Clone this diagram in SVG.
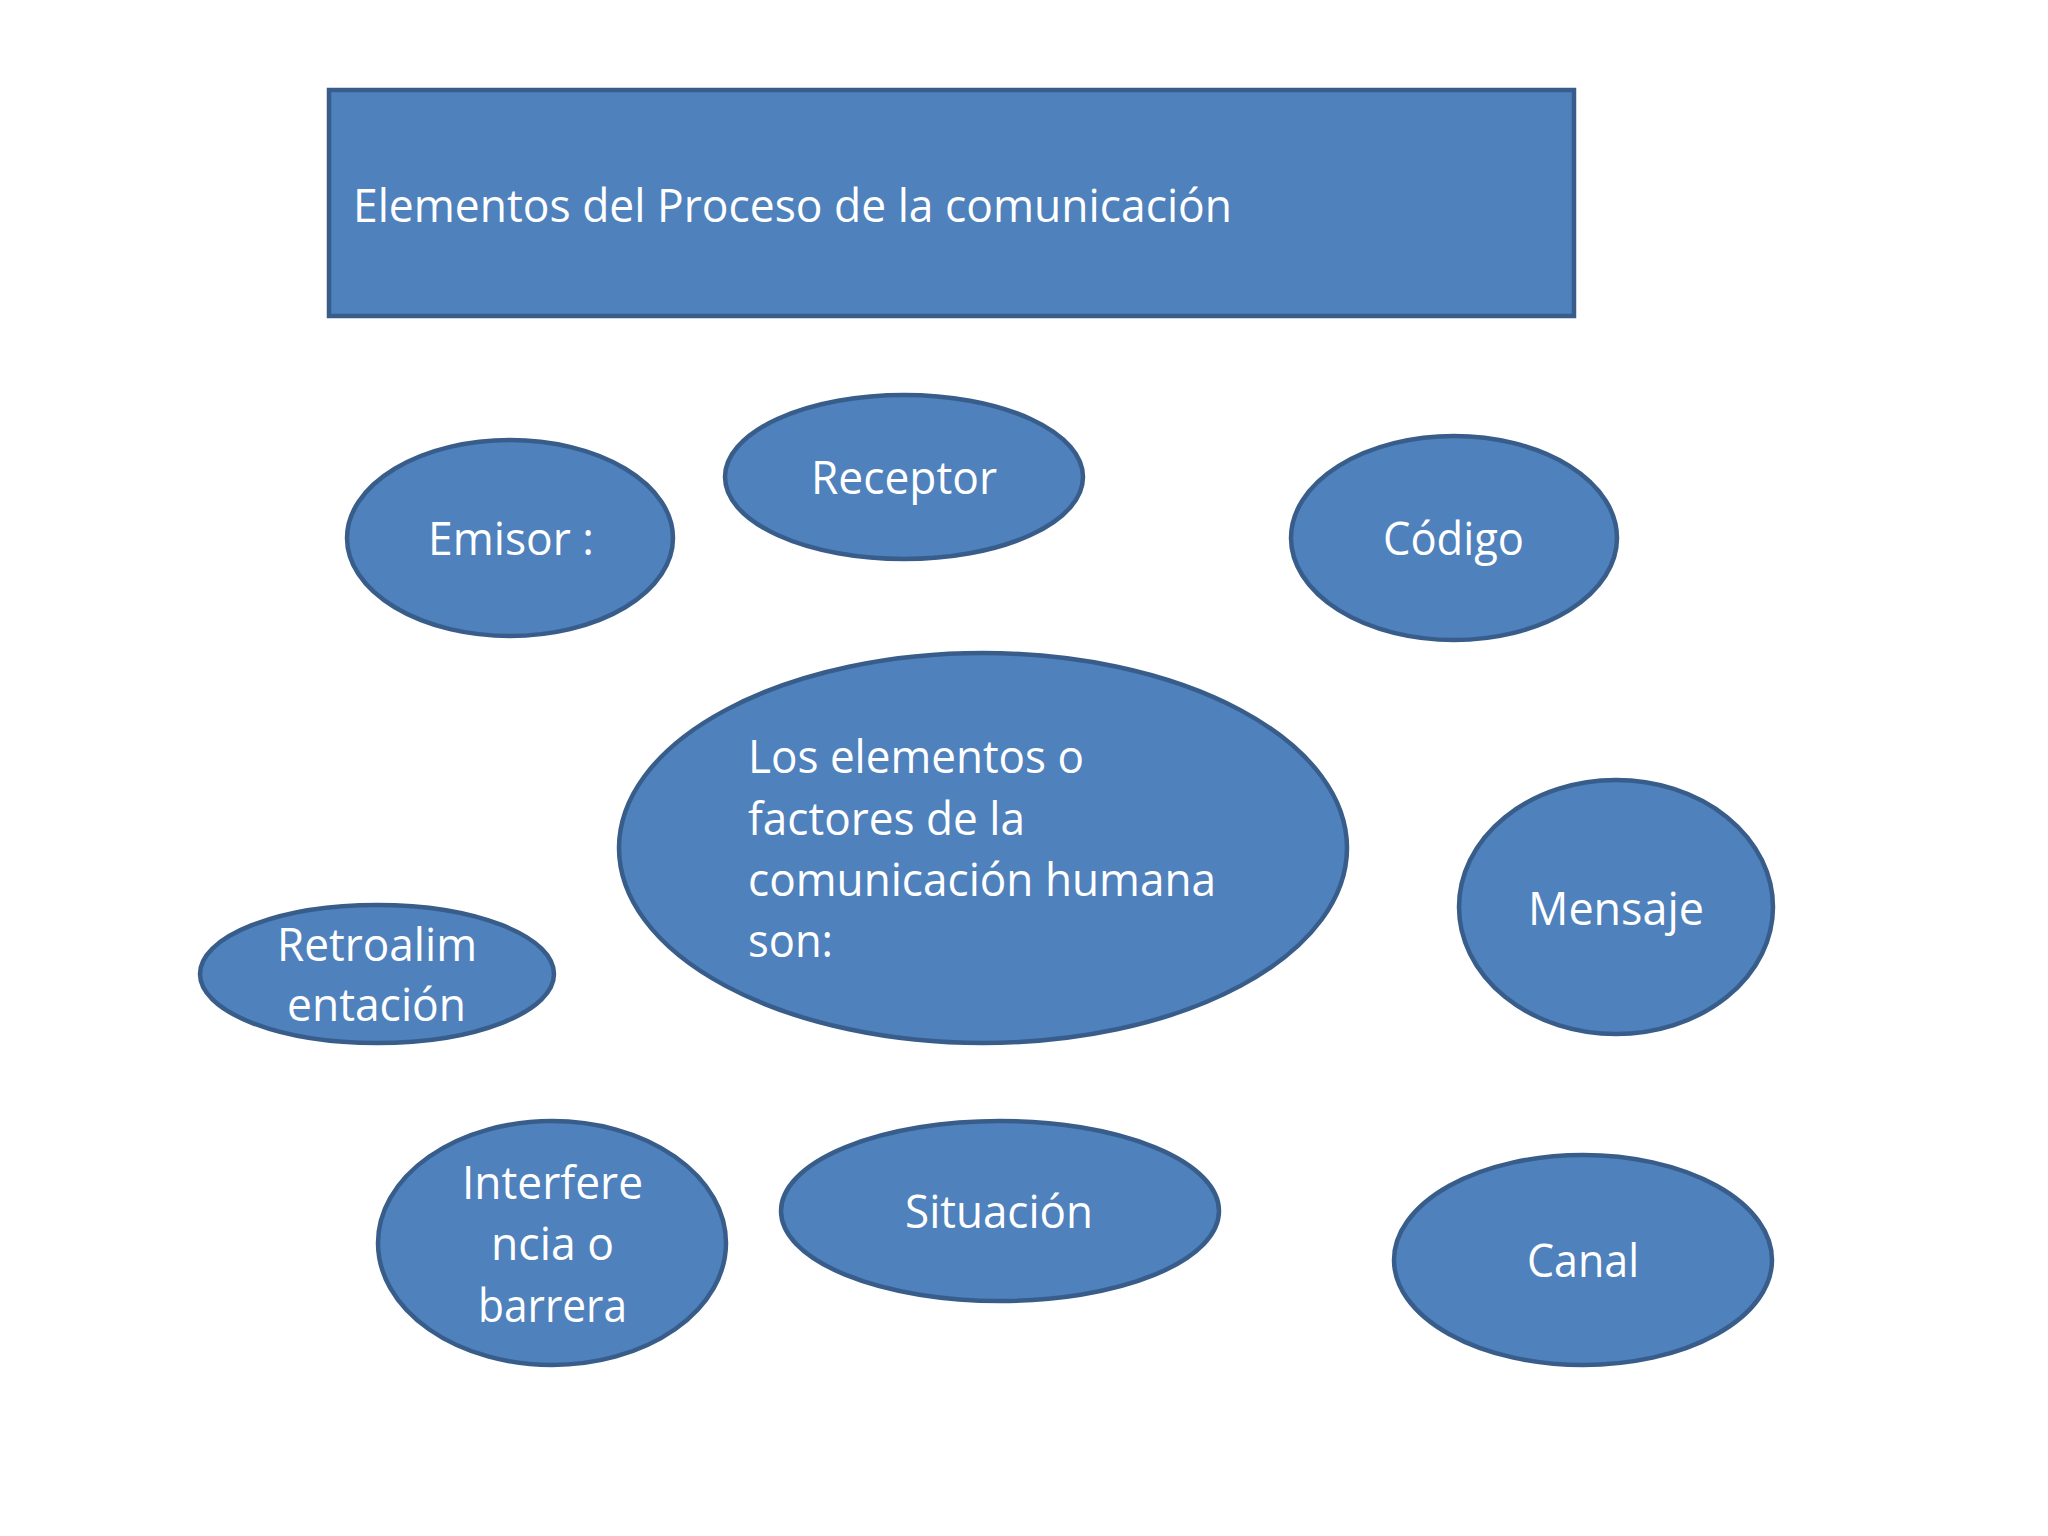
<svg xmlns="http://www.w3.org/2000/svg" width="2048" height="1536" viewBox="0 0 2048 1536">
<style>
.shape{fill:#4F81BD;stroke:#385D8A;stroke-width:4.5}
.t{font-family:"Open Sans","Liberation Sans",sans-serif;font-size:45px;fill:#FFFFFF}
.c{text-anchor:middle}
</style>
<rect width="2048" height="1536" fill="#FFFFFF"/>
<g id="title">
<rect class="shape" x="329" y="90" width="1245" height="226" stroke-width="5"/>
<text class="t" x="353" y="222" textLength="879" lengthAdjust="spacingAndGlyphs">Elementos del Proceso de la comunicación</text>
</g>
<g id="emisor">
<ellipse class="shape" cx="510" cy="538" rx="163" ry="98"/>
<text class="t" x="428" y="555" textLength="166" lengthAdjust="spacingAndGlyphs">Emisor :</text>
</g>
<g id="receptor">
<ellipse class="shape" cx="904" cy="477" rx="179" ry="82"/>
<text class="t" x="811" y="494" textLength="186" lengthAdjust="spacingAndGlyphs">Receptor</text>
</g>
<g id="codigo">
<ellipse class="shape" cx="1454" cy="538" rx="163" ry="102"/>
<text class="t" x="1383" y="555" textLength="141" lengthAdjust="spacingAndGlyphs">Código</text>
</g>
<g id="central">
<ellipse class="shape" cx="983" cy="848" rx="364" ry="195"/>
<text class="t" x="748" y="773" textLength="336" lengthAdjust="spacingAndGlyphs">Los elementos o</text>
<text class="t" x="748" y="835" textLength="277" lengthAdjust="spacingAndGlyphs">factores de la</text>
<text class="t" x="748" y="896" textLength="468" lengthAdjust="spacingAndGlyphs">comunicación humana</text>
<text class="t" x="748" y="957" textLength="85" lengthAdjust="spacingAndGlyphs">son:</text>
</g>
<g id="mensaje">
<ellipse class="shape" cx="1616" cy="907" rx="157" ry="127"/>
<text class="t" x="1528" y="925" textLength="176" lengthAdjust="spacingAndGlyphs">Mensaje</text>
</g>
<g id="retroalimentacion">
<ellipse class="shape" cx="377" cy="974" rx="177" ry="69"/>
<text class="t" x="277" y="961" textLength="200" lengthAdjust="spacingAndGlyphs">Retroalim</text>
<text class="t" x="287" y="1021" textLength="179" lengthAdjust="spacingAndGlyphs">entación</text>
</g>
<g id="interferencia">
<ellipse class="shape" cx="552" cy="1243" rx="174" ry="122"/>
<text class="t" x="462" y="1199" textLength="181" lengthAdjust="spacingAndGlyphs">Interfere</text>
<text class="t" x="491" y="1260" textLength="123" lengthAdjust="spacingAndGlyphs">ncia o</text>
<text class="t" x="478" y="1322" textLength="149" lengthAdjust="spacingAndGlyphs">barrera</text>
</g>
<g id="situacion">
<ellipse class="shape" cx="1000" cy="1211" rx="219" ry="90"/>
<text class="t" x="905" y="1228" textLength="188" lengthAdjust="spacingAndGlyphs">Situación</text>
</g>
<g id="canal">
<ellipse class="shape" cx="1583" cy="1260" rx="189" ry="105"/>
<text class="t" x="1527" y="1277" textLength="112" lengthAdjust="spacingAndGlyphs">Canal</text>
</g>
<g id="connectors"/>
</svg>
